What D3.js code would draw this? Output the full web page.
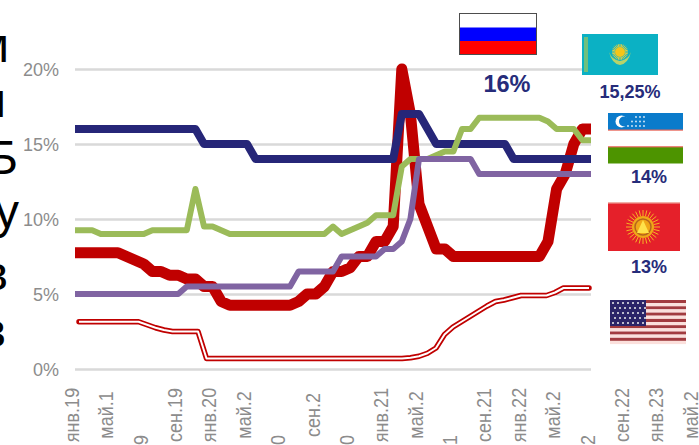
<!DOCTYPE html>
<meta charset="utf-8">

<style>
html, body { margin: 0; padding: 0; background: #fff; overflow: hidden; }
svg { display: block; font-family: "Liberation Sans", sans-serif; }
.line { fill: none; stroke-linejoin: round; }
.tickLabel { fill: #8c8c8c; font-size: 18px; }
.rateLabel { fill: #262c7a; font-weight: bold; text-anchor: middle; }
</style>

<svg width="699" height="445"></svg>

<script src="https://d3js.org/d3.v7.min.js"></script>
<script>

const svg = d3.select("svg")

//monthly values, month 0 is jan 2019
const russia = [7.75,7.75,7.75,7.75,7.75,7.75,7.5,7.25,7,6.5,6.5,6.25,6.25,6,6,5.5,5.5,4.5,4.25,4.25,4.25,4.25,4.25,4.25,4.25,4.25,4.5,5,5,5.5,6.5,6.5,6.75,7.5,7.5,8.5,8.5,9.5,20,17,11,9.5,8,8,7.5,7.5,7.5,7.5,7.5,7.5,7.5,7.5,7.5,7.5,7.5,8.5,12,13,15,16,16]
const uzbekistan = [16,16,16,16,16,16,16,16,16,16,16,16,16,16,16,15,15,15,15,15,15,14,14,14,14,14,14,14,14,14,14,14,14,14,14,14,14,14,17,17,17,16,15,15,15,15,15,15,15,15,15,14,14,14,14,14,14,14,14,14,14]
const kazakhstan = [9.25,9.25,9.25,9,9,9,9,9,9,9.25,9.25,9.25,9.25,9.25,12,9.5,9.5,9.25,9,9,9,9,9,9,9,9,9,9,9,9,9.5,9,9.25,9.5,9.75,10.25,10.25,10.25,13.5,14,14,14,14.25,14.5,14.5,16,16,16.75,16.75,16.75,16.75,16.75,16.75,16.75,16.75,16.5,16,16,16,15.25,15.25]
const kyrgyzstan = [5,5,5,5,5,5,5,5,5,5,5,5,5,5.5,5.5,5.5,5.5,5.5,5.5,5.5,5.5,5.5,5.5,5.5,5.5,5.5,6.5,6.5,6.5,6.5,6.5,7.5,7.5,7.5,7.5,7.5,8,8,8.5,10,14,14,14,14,14,14,14,13,13,13,13,13,13,13,13,13,13,13,13,13,13]
const usa = [3.15,3.15,3.15,3.15,3.15,3.15,3.15,3.15,2.95,2.75,2.6,2.5,2.5,2.5,2.5,0.7,0.7,0.7,0.7,0.7,0.7,0.7,0.7,0.7,0.7,0.7,0.7,0.7,0.7,0.7,0.7,0.7,0.7,0.7,0.7,0.7,0.7,0.7,0.7,0.75,0.85,1.05,1.4,2.3,2.8,3.15,3.5,3.85,4.2,4.5,4.6,4.75,4.9,4.9,4.9,4.9,5.1,5.4,5.4,5.4,5.4]

const yTicks = [0, 5, 10, 15, 20]
const monthLabels = ["янв.19","май.1","9","сен.19","янв.20","май.2","0","сен.2","0","янв.21","май.2","1","сен.21","янв.22","май.2","2","сен.22","янв.23","май.2"]
const sideLetters = ["м","н","Б","у","в","в"]

const x = d3.scaleLinear().domain([0, 60]).range([75, 591])
const xUsa = x.copy().range([79, 589])
const y = d3.scaleLinear().domain([0, 20]).range([369, 69])

/////////////////////////////////////////////////
//cut off text on the left edge
const sideX = [9, 6, 18, 19, 8, 6]
const sideY = [62, 117, 174, 228, 290, 347]
svg.selectAll(".sideLetter")
    .data(sideLetters)
    .enter().append("text")
    .attr("class", "sideLetter")
    .attr("x", (d,i) => sideX[i])
    .attr("y", (d,i) => sideY[i])
    .attr("text-anchor", "end")
    .attr("font-size", 48)
    .attr("fill", "#000")
    .text(d => d)

/////////////////////////////////////////////////
//y axis and grid
const yAxis = svg.append("g")
    .attr("transform", "translate(75, 0)")
    .call(d3.axisLeft(y).tickValues(yTicks).tickSize(-516).tickFormat(d => d + "%"))
yAxis.select(".domain").remove()
yAxis.selectAll("line").attr("stroke", "#d9d9d9").attr("stroke-width", 2.5)
yAxis.selectAll("text")
    .attr("class", "tickLabel")
    .attr("x", -16)
    .attr("dy", "0.36em")

//x axis, the labels wrap into the next slot
const xLabels = d3.scalePoint().domain(d3.range(monthLabels.length)).range([71, 690])
const xAxis = svg.append("g")
    .call(d3.axisBottom(xLabels).tickSize(0).tickFormat(i => monthLabels[i]))
xAxis.select(".domain").remove()
xAxis.selectAll("text")
    .attr("class", "tickLabel")
    .attr("text-anchor", "middle")
    .attr("transform", "rotate(-90) scale(1, 1.12)")
    .attr("x", (d,i) => monthLabels[i].length == 1 ? -440 : -415)
    .attr("y", 6.5)
    .attr("dy", 0)

/////////////////////////////////////////////////
//lines
const lineGenerator = d3.line()
    .x((d,i) => x(i))
    .y(d => y(d))

const lineUsa = d3.line()
    .x((d,i) => xUsa(i))
    .y(d => y(d))

svg.append("path").attr("class", "line").attr("d", lineUsa(usa))
    .attr("stroke", "#c00000").attr("stroke-width", 5.5).attr("stroke-linecap", "round")
svg.append("path").attr("class", "line").attr("d", lineUsa(usa))
    .attr("stroke", "#fff").attr("stroke-width", 2)

svg.append("path").attr("class", "line").attr("d", lineGenerator(russia))
    .attr("stroke", "#c00000").attr("stroke-width", 11)
svg.append("path").attr("class", "line").attr("d", lineGenerator(uzbekistan))
    .attr("stroke", "#262678").attr("stroke-width", 8)
svg.append("path").attr("class", "line").attr("d", lineGenerator(kazakhstan))
    .attr("stroke", "#9bbb59").attr("stroke-width", 6)
svg.append("path").attr("class", "line").attr("d", lineGenerator(kyrgyzstan))
    .attr("stroke", "#8064a2").attr("stroke-width", 6)

/////////////////////////////////////////////////
//flags
function band(x0, y0, w, h, color) {
  return svg.append("rect").attr("x", x0).attr("y", y0).attr("width", w).attr("height", h).attr("fill", color)
}

//sun with rays, used for the kazakh and kyrgyz flags
function sun(cx, cy, rInner, rOuter, core, rays) {
  const rayAngles = d3.range(0, 2 * Math.PI, Math.PI / 14)
  svg.append("g").selectAll("line")
      .data(rayAngles)
      .enter().append("line")
      .attr("x1", d => cx + rInner * Math.cos(d))
      .attr("y1", d => cy + rInner * Math.sin(d))
      .attr("x2", d => cx + rOuter * Math.cos(d))
      .attr("y2", d => cy + rOuter * Math.sin(d))
      .attr("stroke", rays)
      .attr("stroke-width", 1)
  svg.append("circle").attr("cx", cx).attr("cy", cy).attr("r", rInner).attr("fill", core)
}

//russia
band(460, 14, 76, 13.5, "#fff")
band(460, 27.5, 76, 13.5, "#0000ff")
band(460, 41, 76, 13.5, "#ff0000")
svg.append("rect").attr("x", 459.5).attr("y", 13.5).attr("width", 77).attr("height", 41)
    .attr("fill", "none").attr("stroke", "#4d4d4d").attr("stroke-width", 1)

//kazakhstan
band(582, 34, 76, 41, "#0bb1c4")
band(584, 37, 4, 35, "#6fc07f")
sun(620, 52, 5, 8, "#f5c518", "#d9cf4a")
svg.append("path")
    .attr("d", "M609 52 Q612 64 620 65 Q628 64 631 52 Q628 60 620 61 Q612 60 609 52Z")
    .attr("fill", "#b7d36a")

//uzbekistan
band(608, 113, 75, 17, "#0a7bcb")
band(608, 130, 75, 17, "#fff")
band(608, 147, 75, 16.5, "#4d9400")
band(608, 129.5, 75, 1.2, "#e8685c")
band(608, 146.2, 75, 1.2, "#e8685c")
svg.append("circle").attr("cx", 621.5).attr("cy", 121.5).attr("r", 6).attr("fill", "#fff")
svg.append("circle").attr("cx", 624).attr("cy", 121.5).attr("r", 5).attr("fill", "#0a7bcb")
const uzRows = [0, 1, 2]
const uzCols = [0, 1, 2, 3, 4]
uzRows.forEach(r => uzCols.forEach(c => {
  if (r + c < 2) return
  svg.append("circle").attr("cx", 628 + c * 4).attr("cy", 117 + r * 4.5).attr("r", 0.9).attr("fill", "#dfeefa")
}))

//kyrgyzstan
band(608, 203, 72, 48, "#e5202a")
band(608, 202, 72, 1.5, "#f0b0a8")
sun(643, 227, 11, 17, "#f0a818", "#f5b324")
svg.append("circle").attr("cx", 643).attr("cy", 227).attr("r", 8).attr("fill", "none").attr("stroke", "#b5651d").attr("stroke-width", 1.5)
svg.append("path").attr("d", "M637 233 L643 220 L649 233Z").attr("fill", "#ffe24a")

//usa
const usStripes = d3.range(7)
usStripes.forEach(i => {
  band(610, 300 + i * 6.3, 76, 3.1, "#a23b3f")
  band(610, 303.1 + i * 6.3, 76, 3.2, "#fbe0dc")
})
band(610, 300, 36, 26, "#2a2468")
const usStarRows = d3.range(5)
const usStarCols = d3.range(7)
usStarRows.forEach(r => usStarCols.forEach(c => {
  svg.append("circle")
      .attr("cx", 613 + c * 5 + (r % 2) * 2)
      .attr("cy", 303 + r * 5)
      .attr("r", 1)
      .attr("fill", "#eeeeee")
}))

/////////////////////////////////////////////////
//rate labels
const rateTexts = ["16%", "15,25%", "14%", "13%"]
const rateX = [507, 630, 649, 649]
const rateY = [92, 98, 183, 273]
const rateSize = [23.5, 18, 18, 18]
svg.selectAll(".rateLabel")
    .data(rateTexts)
    .enter().append("text")
    .attr("class", "rateLabel")
    .attr("x", (d,i) => rateX[i])
    .attr("y", (d,i) => rateY[i])
    .attr("font-size", (d,i) => rateSize[i])
    .text(d => d)

</script>
